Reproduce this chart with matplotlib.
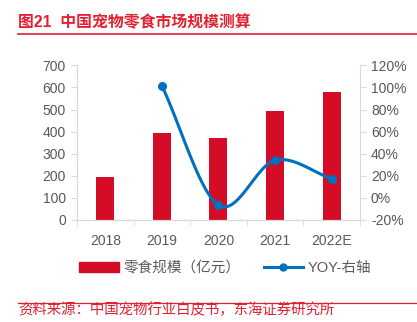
import numpy as np
import matplotlib
matplotlib.use('Agg')
import matplotlib.pyplot as plt
from matplotlib.lines import Line2D
from matplotlib.patches import Patch

plt.rcParams['font.family'] = ['Liberation Sans', 'Noto Sans CJK SC', 'DejaVu Sans']

years = ['2018', '2019', '2020', '2021', '2022E']
snack_size = [196, 395, 370, 492, 578]          # 亿元
yoy_years = [1, 2, 3, 4]
yoy = [101.5, -6.5, 34.0, 17.5]                  # %

RED = '#d50c25'
BLUE = '#0070c0'
GRAY = '#595959'
SPINE = '#d9d9d9'


def catmull_rom(x, y, n=40):
    # smooth curve through the points, like the Excel smoothed line
    x = np.asarray(x, float)
    y = np.asarray(y, float)
    px = np.concatenate([[2 * x[0] - x[1]], x, [2 * x[-1] - x[-2]]])
    py = np.concatenate([[2 * y[0] - y[1]], y, [2 * y[-1] - y[-2]]])
    xs, ys = [], []
    t = np.linspace(0, 1, n)
    for i in range(1, len(px) - 2):
        for p, out in ((px, xs), (py, ys)):
            p0, p1, p2, p3 = p[i - 1], p[i], p[i + 1], p[i + 2]
            out.extend(0.5 * ((2 * p1) + (-p0 + p2) * t
                              + (2 * p0 - 5 * p1 + 4 * p2 - p3) * t ** 2
                              + (-p0 + 3 * p1 - 3 * p2 + p3) * t ** 3))
    return np.array(xs), np.array(ys)


def main():
    fig = plt.figure(figsize=(4.17, 3.22), dpi=100)
    ax = fig.add_axes([0.1847, 0.3168, 0.6783, 0.4803])
    ax2 = ax.twinx()

    x = np.arange(len(years))
    ax.bar(x, snack_size, width=0.32, color=RED, zorder=2)
    ax.set_xlim(-0.5, 4.5)
    ax.set_ylim(0, 700)
    ax.set_yticks(range(0, 701, 100))
    ax.set_xticks(x)
    ax.set_xticklabels(years)
    ax.set_xticks(np.arange(-0.5, 5, 1), minor=True)
    ax.tick_params(axis='x', which='major', length=0, pad=10, labelsize=10, labelcolor=GRAY)
    ax.tick_params(axis='x', which='minor', length=4, color=SPINE)
    ax.tick_params(axis='y', length=4, color=SPINE, labelsize=10, labelcolor=GRAY, pad=4)

    sx, sy = catmull_rom(yoy_years, yoy)
    ax2.plot(sx, sy, color=BLUE, lw=2.2, zorder=3)
    ax2.plot(yoy_years, yoy, 'o', color=BLUE, ms=5.5, zorder=4)
    ax2.set_ylim(-20, 120)
    ax2.set_yticks(range(-20, 121, 20))
    ax2.set_yticklabels([f'{v}%' for v in range(-20, 121, 20)])
    ax2.tick_params(axis='y', length=4, color=SPINE, labelsize=10, labelcolor=GRAY, pad=4)

    for a in (ax, ax2):
        a.spines['top'].set_visible(False)
        for s in ('left', 'right', 'bottom'):
            a.spines[s].set_color(SPINE)
    ax.spines['right'].set_visible(False)

    # title and rules
    fig.text(0.043, 0.93, '图21  中国宠物零食市场规模测算', color='#e2202f',
             fontsize=11.4, fontweight='bold', va='center', ha='left')
    fig.add_artist(Line2D([0.043, 1.0], [0.893, 0.893], color='#e2202f', lw=1.2))
    fig.add_artist(Line2D([0.043, 1.0], [0.06, 0.06], color='#e2202f', lw=0.9))
    fig.text(0.043, 0.016, '资料来源：中国宠物行业白皮书，东海证券研究所', color='#e2202f',
             fontsize=10.4, va='bottom', ha='left')

    handles = [Patch(color=RED),
               Line2D([], [], color=BLUE, lw=2.2, marker='o', ms=5)]
    fig.legend(handles, ['零食规模（亿元）', 'YOY-右轴'], loc='center',
               bbox_to_anchor=(0.54, 0.168), ncol=2, frameon=False, fontsize=10.5,
               labelcolor=GRAY, handlelength=2.7, handletextpad=0.3, columnspacing=1.6)

    fig.savefig('out.png', dpi=100)


if __name__ == "__main__":
    main()
